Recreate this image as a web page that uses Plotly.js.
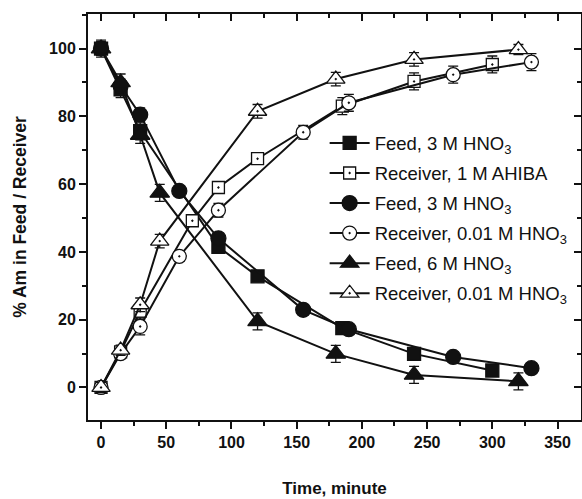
<!DOCTYPE html>
<html>
<head>
<meta charset="utf-8">
<script src="https://cdn.plot.ly/plotly-3.0.1.min.js"></script>
<style>html,body{margin:0;padding:0;background:#fff;}#chart{width:582px;height:499px;}</style>
</head>
<body>
<div id="chart"></div>
<script>
// Feed 3 M HNO3 / Receiver 1 M AHIBA (squares)
const tFeedSq = [0, 15, 30, 90, 120, 185, 240, 300];
const feedSq = [100, 88, 75.6, 41.5, 32.8, 17.5, 9.9, 5.0];
const feedSqErr = [2.5, 2.5, 2.5, 1.5, 1.5, 1.5, 1.5, 1.5];
const tRecSq = [0, 15, 30, 70, 90, 120, 185, 240, 300];
const recSq = [0, 10.5, 22.5, 49.2, 59, 67.5, 83, 90.3, 95.3];
const recSqErr = [1.5, 1.5, 2.5, 1.5, 1.5, 1.5, 2.5, 2.5, 2.5];
// Feed 3 M HNO3 / Receiver 0.01 M HNO3 (circles)
const tCirc = [0, 15, 30, 60, 90, 155, 190, 270, 330];
const feedCirc = [100, 89, 80.5, 58, 44, 22.9, 17.2, 9.0, 5.7];
const feedCircErr = [2, 2, 2, 1.5, 1.5, 1.5, 1.5, 1.5, 1.5];
const recCirc = [0, 10, 18, 38.7, 52.3, 75.3, 84, 92.3, 96];
const recCircErr = [1.5, 1.5, 2.5, 1.5, 2, 2, 2.5, 2.5, 2.5];
// Feed 6 M HNO3 / Receiver 0.01 M HNO3 (triangles)
const tTri = [0, 15, 30, 45, 120, 180, 240, 320];
const feedTri = [100, 90, 74.5, 57.4, 19.5, 9.9, 3.7, 1.8];
const feedTriErr = [2, 2.5, 2.5, 2.5, 2.5, 2.5, 2.5, 2.5];
const recTri = [0, 11, 24.4, 43.2, 81.5, 91, 96.8, 99.7];
const recTriErr = [1.5, 1.5, 2, 2, 2, 2, 2, 1.5];

const names = [
  'Feed, 3 M HNO<sub>3</sub>',
  'Receiver, 1 M AHIBA',
  'Feed, 3 M HNO<sub>3</sub>',
  'Receiver, 0.01 M HNO<sub>3</sub>',
  'Feed, 6 M HNO<sub>3</sub>',
  'Receiver, 0.01 M HNO<sub>3</sub>'
];

function tr(x, y, err, name, symbol, size, fill, g) {
  return {
    x: x, y: y, name: name, type: 'scatter', mode: 'lines+markers',
    legendgroup: g,
    line: {color: '#111', width: 2},
    marker: {symbol: symbol, size: size, color: fill, line: {color: '#111', width: 1.3}},
    error_y: {type: 'data', array: err, visible: true, color: '#111', thickness: 1.3, width: 5},
    cliponaxis: false
  };
}

const data = [
  tr(tFeedSq, feedSq, feedSqErr, names[0], 'square', 13, '#111', 'a'),
  tr(tRecSq, recSq, recSqErr, names[1], 'square-dot', 12, '#fff', 'b'),
  tr(tCirc, feedCirc, feedCircErr, names[2], 'circle', 15, '#111', 'c'),
  tr(tCirc, recCirc, recCircErr, names[3], 'circle-dot', 14, '#fff', 'd'),
  tr(tTri, feedTri, feedTriErr, names[4], 'triangle-up', 17, '#111', 'e'),
  tr(tTri, recTri, recTriErr, names[5], 'triangle-up-dot', 16, '#fff', 'f')
];

const fontFam = 'Liberation Sans, Arial, sans-serif';
const xr = [-10, 368];
const yr = [-9.6, 110.2];

const layout = {
  width: 582, height: 499,
  margin: {l: 88, r: 1, t: 14, b: 79},
  paper_bgcolor: '#fff', plot_bgcolor: '#fff',
  showlegend: true,
  font: {family: fontFam, color: '#111'},
  xaxis: {
    range: xr, tickvals: [0, 50, 100, 150, 200, 250, 300, 350],
    ticks: 'outside', ticklen: 7, tickwidth: 2, tickcolor: '#111',
    minor: {dtick: 25, tick0: 0, ticks: 'outside', ticklen: 4, tickwidth: 2, tickcolor: '#111'},
    showline: true, linewidth: 2, linecolor: '#111', mirror: true,
    showgrid: false, zeroline: false,
    tickfont: {size: 16, family: fontFam, weight: 'bold'},
    title: {text: '<b>Time, minute</b>', font: {size: 17, family: fontFam}, standoff: 32}
  },
  yaxis: {
    range: yr, tickvals: [0, 20, 40, 60, 80, 100],
    ticks: 'outside', ticklen: 7, tickwidth: 2, tickcolor: '#111',
    minor: {dtick: 10, tick0: 0, ticks: 'outside', ticklen: 4, tickwidth: 2, tickcolor: '#111'},
    showline: true, linewidth: 2, linecolor: '#111', mirror: true,
    showgrid: false, zeroline: false,
    tickfont: {size: 16, family: fontFam, weight: 'bold'},
    title: {text: '<b>% Am in Feed / Receiver</b>', font: {size: 17.5, family: fontFam}, standoff: 18}
  },
  xaxis2: {
    overlaying: 'x', side: 'top', anchor: 'y', range: xr,
    tickvals: [0, 50, 100, 150, 200, 250, 300, 350], showticklabels: false,
    ticks: 'inside', ticklen: 7, tickwidth: 2, tickcolor: '#111',
    minor: {dtick: 25, tick0: 0, ticks: 'inside', ticklen: 4, tickwidth: 2, tickcolor: '#111'},
    showgrid: false, zeroline: false, showline: false
  },
  yaxis2: {
    overlaying: 'y', side: 'right', anchor: 'x', range: yr,
    tickvals: [0, 20, 40, 60, 80, 100], showticklabels: false,
    ticks: 'inside', ticklen: 7, tickwidth: 2, tickcolor: '#111',
    minor: {dtick: 10, tick0: 0, ticks: 'inside', ticklen: 4, tickwidth: 2, tickcolor: '#111'},
    showgrid: false, zeroline: false, showline: false
  },
  legend: {
    x: 0.48, y: 0.728, xanchor: 'left', yanchor: 'top',
    bgcolor: 'rgba(0,0,0,0)', borderwidth: 0,
    font: {size: 18.5, family: fontFam, color: '#111'},
    traceorder: 'grouped', tracegroupgap: 3,
    itemwidth: 40
  }
};

data.push({x: xr, y: yr, xaxis: 'x2', yaxis: 'y2', mode: 'markers', marker: {opacity: 0}, showlegend: false, hoverinfo: 'skip'});

Plotly.newPlot('chart', data, layout, {staticPlot: true});
</script>
</body>
</html>
